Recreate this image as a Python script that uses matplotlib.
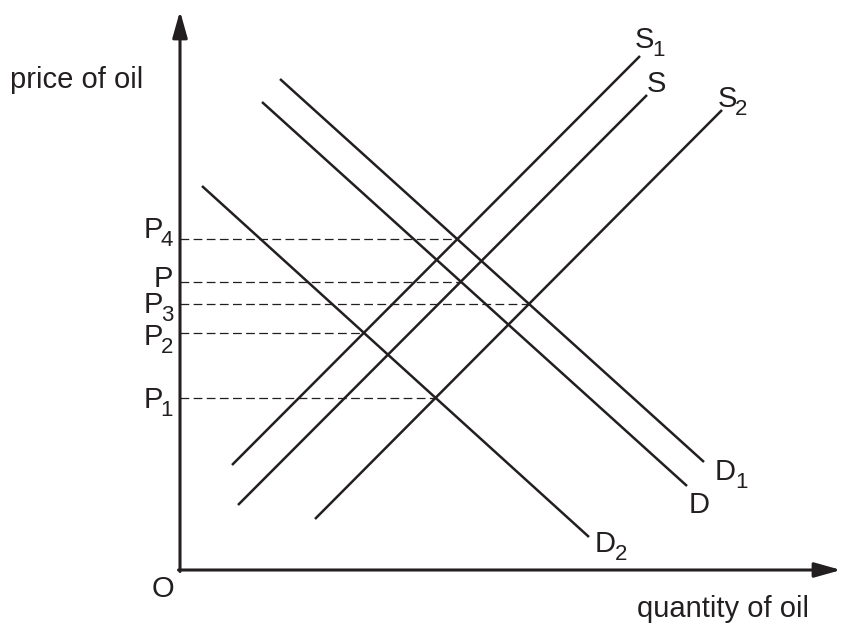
# Oil market: supply and demand shifts

import matplotlib
matplotlib.use("Agg")
import matplotlib.pyplot as plt

plt.rcParams['font.family'] = ['Liberation Sans', 'DejaVu Sans']

INK = '#231f20'

# curve endpoints (quantity, price), origin at the axis corner
curve_names = ['S1', 'S', 'S2', 'D1', 'D', 'D2']
curve_q = [(52, 460), (58, 467), (135, 542), (100, 524), (82, 507), (22, 409)]
curve_p = [(105, 514), (65, 475), (51, 460), (491, 108), (468, 84), (384, 33)]

# price levels: (label, subscript, supply curve, demand curve)
price_labels = ['P', 'P', 'P', 'P', 'P']
price_subs = ['4', '', '3', '2', '1']
price_pairs = [('S1', 'D1'), ('S', 'D'), ('S2', 'D1'), ('S1', 'D2'), ('S2', 'D2')]


def line_of(name):
    i = curve_names.index(name)
    (q0, q1), (p0, p1) = curve_q[i], curve_p[i]
    m = (p1 - p0) / (q1 - q0)
    return m, p0 - m * q0


def cross(a, b):
    m1, c1 = line_of(a)
    m2, c2 = line_of(b)
    q = (c2 - c1) / (m1 - m2)
    return q, m1 * q + c1


def label(ax, x, y, main, sub='', size=21, sub_size=16, sub_dx=0, sub_dy=-8, ha='left'):
    t = ax.text(x, y, main, fontsize=size, color=INK, ha=ha, va='baseline')
    if sub:
        if ha == 'right':
            # main text ends where subscript starts
            t.set_position((x - sub_dx, y))
            ax.text(x, y + sub_dy, sub, fontsize=sub_size, color=INK,
                    ha='right', va='baseline')
        else:
            ax.text(x + sub_dx, y + sub_dy, sub, fontsize=sub_size, color=INK,
                    ha='left', va='baseline')


fig = plt.figure(figsize=(8.46, 6.26), dpi=100)
ax = fig.add_axes([0, 0, 1, 1])
ax.set_xlim(-180, 666)
ax.set_ylim(-56, 570)
ax.axis('off')

# axes with arrow heads
arrow = dict(arrowstyle='-|>,head_length=1.6,head_width=0.45', lw=2.2,
             color=INK, shrinkA=0, shrinkB=0, mutation_scale=10)
ax.annotate('', xy=(0, 559), xytext=(0, -1.5), arrowprops=arrow)
ax.annotate('', xy=(661, 0), xytext=(-1.5, 0), arrowprops=arrow)

# supply and demand curves
for i, name in enumerate(curve_names):
    ax.plot(curve_q[i], curve_p[i], color=INK, lw=1.8, solid_capstyle='butt')

# dashed price guides
for lab, sub, (s, d) in zip(price_labels, price_subs, price_pairs):
    q, p = cross(s, d)
    ax.plot([0, q], [p, p], color=INK, lw=0.9, linestyle=(0, (7, 3.5)))

# price labels on the vertical axis
label(ax, -7, 332, 'P', '4', ha='right', sub_dx=10)
label(ax, -7, 283, 'P', ha='right')
label(ax, -7, 257, 'P', '3', ha='right', sub_dx=10)
label(ax, -7, 225, 'P', '2', ha='right', sub_dx=10)
label(ax, -7, 162, 'P', '1', ha='right', sub_dx=10)

# curve labels
label(ax, 455, 522, 'S', '1', sub_dx=17)
label(ax, 467, 478, 'S')
label(ax, 538, 463, 'S', '2', sub_dx=17)
label(ax, 535, 90, 'D', '1', sub_dx=20)
label(ax, 509, 57, 'D')
label(ax, 415, 18, 'D', '2', sub_dx=20)

# axis titles
ax.text(-170, 482, 'price of oil', fontsize=21, color=INK, ha='left', va='baseline')
ax.text(457, -47, 'quantity of oil', fontsize=21, color=INK, ha='left', va='baseline')
ax.text(-28, -27, 'O', fontsize=21, color=INK, ha='left', va='baseline')

fig.savefig('out.png', dpi=100)
